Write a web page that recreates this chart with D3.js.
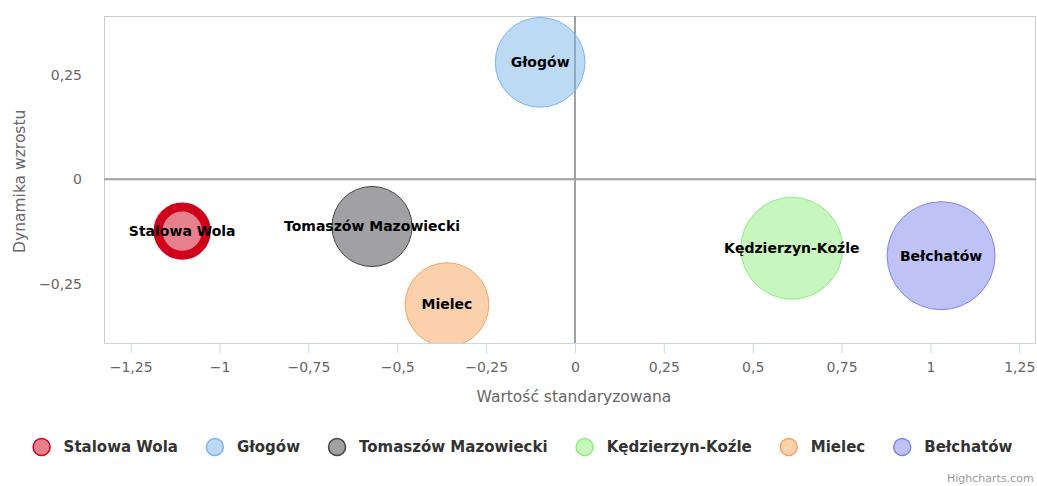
<!DOCTYPE html>
<html>
<head>
<meta charset="utf-8">
<script src="https://cdn.jsdelivr.net/npm/d3@7"></script>
<style>
	body { margin: 0; background: #fff; }
	svg { display: block; font-family: 'DejaVu Sans', sans-serif; }
</style>
</head>
<body>
<svg id="chart"></svg>
<script>
// data
const cities = ['Stalowa Wola', 'Głogów', 'Tomaszów Mazowiecki', 'Kędzierzyn-Koźle', 'Mielec', 'Bełchatów'];
const xValues = [-1.105, -0.098, -0.571, 0.61, -0.36, 1.03];
const yValues = [-0.124, 0.28, -0.113, -0.165, -0.30, -0.183];
const zValues = [20, 69, 55, 89, 60, 100];
const colors = ['#d0021b', '#7cb5ec', '#434348', '#90ed7d', '#f7a35c', '#8085e9'];
const xTicks = [-1.25, -1, -0.75, -0.5, -0.25, 0, 0.25, 0.5, 0.75, 1, 1.25];
const yTicks = [-0.25, 0, 0.25];

const width = 1037;
const height = 486;
const marginTop = 16;
const marginRight = 1;
const marginBottom = 143;
const marginLeft = 104;

const data = cities.map((name, i) => ({
	name: name,
	x: xValues[i],
	y: yValues[i],
	z: zValues[i],
	color: colors[i],
}));

const svg = d3.select('#chart')
	.attr('width', width)
	.attr('height', height)
	.attr('viewBox', [0, 0, width, height]);

const x = d3.scaleLinear()
	.domain([-1.325, 1.297])
	.range([marginLeft, width - marginRight]);

const y = d3.scaleLinear()
	.domain([-0.392, 0.391])
	.range([height - marginBottom, marginTop]);

const r = d3.scaleSqrt()
	.domain([0, 100])
	.range([0, 54]);

// polish number format: comma decimal, real minus sign
const fmt = (v) => (v < 0 ? '\u2212' : '') + String(Math.abs(v)).replace('.', ',');

const plotW = width - marginRight - marginLeft;
const plotH = height - marginBottom - marginTop;

svg.append('defs')
	.append('clipPath')
	.attr('id', 'plot-clip')
	.append('rect')
	.attr('x', marginLeft)
	.attr('y', marginTop)
	.attr('width', plotW)
	.attr('height', plotH);

// plot border
svg.append('rect')
	.attr('x', marginLeft + 0.5)
	.attr('y', marginTop + 0.5)
	.attr('width', plotW - 1)
	.attr('height', plotH)
	.attr('fill', 'none')
	.attr('stroke', '#cccccc');

// zero lines
svg.append('line')
	.attr('x1', marginLeft)
	.attr('x2', width - marginRight)
	.attr('y1', y(0))
	.attr('y2', y(0))
	.attr('stroke', '#a0a0a0')
	.attr('stroke-width', 2);

svg.append('line')
	.attr('x1', x(0))
	.attr('x2', x(0))
	.attr('y1', marginTop)
	.attr('y2', height - marginBottom)
	.attr('stroke', '#a0a0a0')
	.attr('stroke-width', 2);

// x axis
svg.append('g')
	.attr('transform', `translate(0,${height - marginBottom})`)
	.call(d3.axisBottom(x).tickValues(xTicks).tickSize(10).tickPadding(9).tickFormat(fmt))
	.call((g) => g.select('.domain').attr('stroke', '#ccd6eb').attr('d', `M${marginLeft},0.5H${width - marginRight}`))
	.call((g) => g.selectAll('.tick line').attr('stroke', '#ccd6eb'))
	.call((g) => g.selectAll('.tick text')
		.attr('fill', '#666666')
		.style('font-size', '14px')
		.style('font-family', 'DejaVu Sans'));

// y axis
svg.append('g')
	.attr('transform', `translate(${marginLeft},0)`)
	.call(d3.axisLeft(y).tickValues(yTicks).tickSize(0).tickPadding(22).tickFormat(fmt))
	.call((g) => g.select('.domain').remove())
	.call((g) => g.selectAll('.tick text')
		.attr('fill', '#666666')
		.style('font-size', '14px')
		.style('font-family', 'DejaVu Sans'));

// axis titles
svg.append('text')
	.attr('x', x(0) - 1)
	.attr('y', 402)
	.attr('text-anchor', 'middle')
	.attr('fill', '#666666')
	.style('font-size', '15.5px')
	.text('Wartość standaryzowana');

svg.append('text')
	.attr('transform', `translate(25,${y(0) + 2}) rotate(-90)`)
	.attr('text-anchor', 'middle')
	.attr('fill', '#666666')
	.style('font-size', '15.5px')
	.text('Dynamika wzrostu');

// bubbles
const bubbles = svg.append('g').attr('clip-path', 'url(#plot-clip)');

bubbles.selectAll('circle')
	.data(data)
	.join('circle')
	.attr('cx', (d) => x(d.x))
	.attr('cy', (d) => y(d.y))
	.attr('r', (d) => r(d.z))
	.attr('fill', (d) => d.color)
	.attr('fill-opacity', 0.5)
	.attr('stroke', (d) => d.color)
	.attr('stroke-width', (d, i) => (i === 0 ? 9 : 1));

// data labels
bubbles.selectAll('text')
	.data(data)
	.join('text')
	.attr('x', (d) => x(d.x))
	.attr('y', (d) => y(d.y))
	.attr('dy', '0.35em')
	.attr('text-anchor', 'middle')
	.attr('fill', '#000000')
	.style('font-size', '14px')
	.style('font-weight', 'bold')
	.text((d) => d.name);

// legend
const legend = svg.append('g');
const items = legend.selectAll('g')
	.data(data)
	.join('g');

items.append('circle')
	.attr('r', 8.5)
	.attr('fill', (d) => d.color)
	.attr('fill-opacity', 0.5)
	.attr('stroke', (d) => d.color)
	.attr('stroke-width', 1.5);

items.append('text')
	.attr('x', 22)
	.attr('dy', '0.35em')
	.attr('fill', '#333333')
	.style('font-size', '15px')
	.style('font-weight', 'bold')
	.text((d) => d.name);

let cursor = 0;
items.each(function () {
	const w = d3.select(this).select('text').node().getComputedTextLength();
	d3.select(this).attr('transform', `translate(${cursor},0)`);
	cursor += 22 + w + 37;
});
const legendW = cursor - 37 + 9;
legend.attr('transform', `translate(${width / 2 + 4 - legendW / 2 + 9},447)`);

// credits
svg.append('text')
	.attr('x', 947)
	.attr('y', 482)
	.attr('fill', '#999999')
	.style('font-size', '11px')
	.text('Highcharts.com');
</script>
</body>
</html>
